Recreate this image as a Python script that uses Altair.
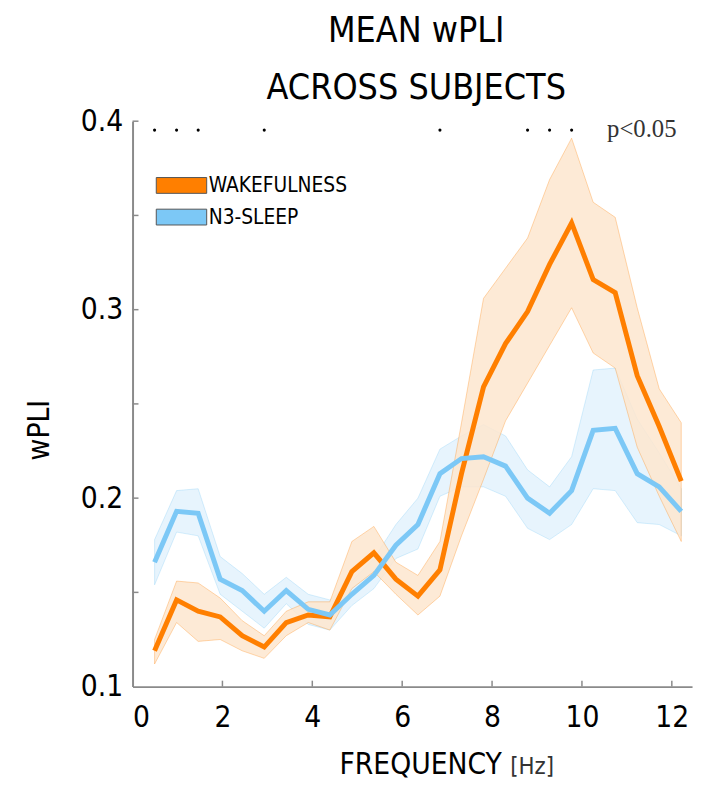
import altair as alt
import pandas as pd

# ---- data ----
freqs = [0.49, 0.98, 1.46, 1.95, 2.44, 2.93, 3.42, 3.91, 4.39, 4.88, 5.37, 5.86, 6.35,
         6.84, 7.32, 7.81, 8.30, 8.79, 9.28, 9.77, 10.25, 10.74, 11.23, 11.72, 12.21]

wake_mean = [0.119, 0.146, 0.140, 0.137, 0.127, 0.121, 0.134, 0.138, 0.137, 0.161, 0.171, 0.157, 0.148,
             0.162, 0.213, 0.259, 0.282, 0.299, 0.324, 0.346, 0.316, 0.309, 0.265, 0.238, 0.209]
wake_upper = [0.125, 0.156, 0.155, 0.147, 0.135, 0.127, 0.140, 0.145, 0.145, 0.177, 0.185, 0.166, 0.159,
              0.177, 0.240, 0.306, 0.322, 0.338, 0.369, 0.391, 0.357, 0.349, 0.301, 0.258, 0.240]
wake_lower = [0.112, 0.134, 0.124, 0.125, 0.119, 0.115, 0.127, 0.134, 0.130, 0.152, 0.161, 0.149, 0.138,
              0.148, 0.180, 0.210, 0.241, 0.261, 0.281, 0.301, 0.277, 0.269, 0.227, 0.201, 0.177]

sleep_mean = [0.166, 0.193, 0.192, 0.157, 0.151, 0.140, 0.151, 0.141, 0.138, 0.149, 0.159, 0.175, 0.186,
              0.213, 0.221, 0.222, 0.217, 0.200, 0.192, 0.204, 0.236, 0.237, 0.213, 0.206, 0.193]
sleep_upper = [0.178, 0.204, 0.205, 0.169, 0.160, 0.149, 0.158, 0.149, 0.146, 0.156, 0.168, 0.186, 0.200,
               0.226, 0.233, 0.239, 0.233, 0.215, 0.206, 0.222, 0.268, 0.269, 0.242, 0.224, 0.205]
sleep_lower = [0.154, 0.182, 0.180, 0.149, 0.140, 0.131, 0.144, 0.133, 0.130, 0.143, 0.152, 0.168, 0.173,
               0.201, 0.206, 0.206, 0.201, 0.184, 0.178, 0.186, 0.205, 0.204, 0.187, 0.186, 0.180]

series_names = ["WAKEFULNESS", "N3-SLEEP"]
series_colors = ["#ff7f00", "#7cc8f6"]
band_colors = ["#fde6cf", "#e7f4fd"]

sig_freqs = [0.49, 0.98, 1.46, 2.93, 6.84, 8.79, 9.28, 9.77]

x_ticks = [0, 2, 4, 6, 8, 10, 12]
x_minor = [2, 4, 6, 8, 10, 12]
y_ticks = [0.1, 0.2, 0.3, 0.4]
y_minor = [0.15, 0.2, 0.25, 0.3, 0.35, 0.4]

# ---- tables ----
rows = []
for name, m, lo, hi in [(series_names[0], wake_mean, wake_lower, wake_upper),
                        (series_names[1], sleep_mean, sleep_lower, sleep_upper)]:
    for f, a, b, c in zip(freqs, m, lo, hi):
        rows.append({"freq": f, "series": name, "mean": a, "lower": b, "upper": c})
df = pd.DataFrame(rows)
sig_df = pd.DataFrame({"freq": sig_freqs})
xt_df = pd.DataFrame({"t": x_minor})
yt_df = pd.DataFrame({"t": y_minor})
leg_df = pd.DataFrame({"series": series_names})

COND = "Liberation Sans Narrow, DejaVu Sans Condensed, Arial Narrow, sans-serif"
W, H = 566, 572
AX = "#8a8a8a"

cs = alt.Scale(domain=series_names, range=series_colors)
bs = alt.Scale(domain=series_names, range=band_colors)
xs = alt.Scale(domain=[0, 12.45], nice=False, zero=False)
ys = alt.Scale(domain=[0.1, 0.4], nice=False, zero=False)

x_axis = alt.Axis(values=x_ticks, format="d", labelFontSize=30, labelFont=COND, labelColor="black",
                  domainColor=AX, domainWidth=2, ticks=False, tickSize=0, labelPadding=16,
                  grid=False, title="FREQUENCY", titleFont=COND, titleFontSize=30,
                  titleFontWeight="normal", titleColor="black", titleX=291, titleY=88,
                  titleAlign="center", titleBaseline="alphabetic")
y_axis = alt.Axis(values=y_ticks, format=".1f", labelFontSize=30, labelFont=COND, labelColor="black",
                  domainColor=AX, domainWidth=2, ticks=False, tickSize=0, labelPadding=10,
                  grid=False, title="wPLI", titleFont=COND, titleFontSize=30,
                  titleFontWeight="normal", titleColor="black", titleX=-94, titleY=312,
                  titleAlign="center", titleBaseline="middle", titleAngle=-90)

base = alt.Chart(df)

# N3-sleep band first, wakefulness band drawn on top of it
band_sleep = base.transform_filter(alt.datum.series == series_names[1]).mark_area(
    fillOpacity=1, strokeOpacity=0.3, strokeWidth=1
).encode(
    x=alt.X("freq:Q", scale=xs, axis=x_axis),
    y=alt.Y("lower:Q", scale=ys, axis=y_axis),
    y2="upper:Q",
    fill=alt.Fill("series:N", scale=bs, legend=None),
    stroke=alt.Stroke("series:N", scale=cs, legend=None),
)
band_wake = base.transform_filter(alt.datum.series == series_names[0]).mark_area(
    fillOpacity=0.85, strokeOpacity=0.3, strokeWidth=1
).encode(
    x="freq:Q",
    y="lower:Q",
    y2="upper:Q",
    fill=alt.Fill("series:N", scale=bs, legend=None),
    stroke=alt.Stroke("series:N", scale=cs, legend=None),
)

line = base.mark_line(strokeWidth=5).encode(
    x="freq:Q",
    y="mean:Q",
    color=alt.Color("series:N", scale=cs, legend=None),
)

dots = alt.Chart(sig_df).mark_circle(size=10, color="black", opacity=1).encode(
    x="freq:Q", y=alt.value(9)
)

xt = alt.Chart(xt_df).mark_rule(color=AX, strokeWidth=1.5).encode(
    x="t:Q", y=alt.value(H - 6), y2=alt.value(H)
)
yt = alt.Chart(yt_df).mark_rule(color=AX, strokeWidth=1.5).encode(
    y="t:Q", x=alt.value(0), x2=alt.value(6)
)

ptext = alt.Chart(pd.DataFrame({"t": ["p<0.05"]})).mark_text(
    font="Liberation Serif, DejaVu Serif, serif", fontSize=25, align="left",
    baseline="middle", color="#333333"
).encode(text="t:N", x=alt.value(480), y=alt.value(8))

hz = alt.Chart(pd.DataFrame({"t": ["[Hz]"]})).mark_text(
    font=COND, fontSize=24, align="left", baseline="alphabetic", color="#333333"
).encode(text="t:N", x=alt.value(382), y=alt.value(H + 88))

# legend (two rows: swatch + label)
legend_layers = []
row_y = [57, 89]
for i, name in enumerate(series_names):
    one = alt.Chart(leg_df).transform_filter(alt.datum.series == name)
    legend_layers.append(
        one.mark_rect(stroke="#555555", strokeWidth=1).encode(
            x=alt.value(24), x2=alt.value(75),
            y=alt.value(row_y[i]), y2=alt.value(row_y[i] + 16),
            color=alt.Color("series:N", scale=cs, legend=None),
        )
    )
    legend_layers.append(
        one.mark_text(font=COND, fontSize=21, align="left", baseline="middle", color="black").encode(
            text="series:N", x=alt.value(77), y=alt.value(row_y[i] + 8.5)
        )
    )

chart = alt.layer(band_sleep, band_wake, line, dots, xt, yt, ptext, hz, *legend_layers).properties(
    width=W, height=H,
    title=alt.TitleParams(text=["MEAN wPLI", "ACROSS SUBJECTS"], font=COND, fontSize=36,
                          fontWeight="normal", color="black", lineHeight=58, offset=-1,
                          anchor="middle", dx=4),
    padding={"left": 126, "top": 110, "right": 4, "bottom": 94},
    autosize=alt.AutoSizeParams(type="none"),
).configure_view(stroke=None)

chart.save("out.html", embed_options={"renderer": "svg", "actions": False})
